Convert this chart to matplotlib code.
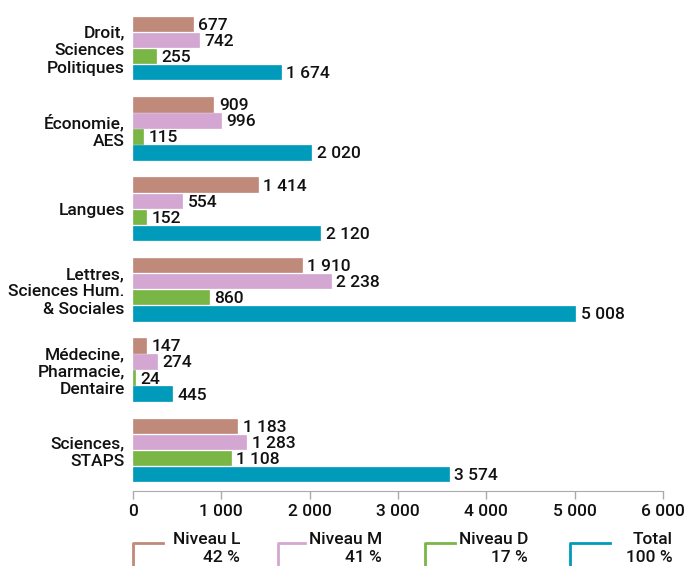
import matplotlib.pyplot as plt
from matplotlib.lines import Line2D
import numpy as np

plt.rcParams['font.family'] = ['Roboto', 'DejaVu Sans']

# Data
categories = ["Droit,\nSciences\nPolitiques", "Économie,\nAES", "Langues",
              "Lettres,\nSciences Hum.\n& Sociales", "Médecine,\nPharmacie,\nDentaire",
              "Sciences,\nSTAPS"]
niveau_l = [677, 909, 1414, 1910, 147, 1183]
niveau_m = [742, 996, 554, 2238, 274, 1283]
niveau_d = [255, 115, 152, 860, 24, 1108]
total = [1674, 2020, 2120, 5008, 445, 3574]
series_names = ["Niveau L", "Niveau M", "Niveau D", "Total"]
series_shares = ["42 %", "41 %", "17 %", "100 %"]
colors = ["#c08a7a", "#d4a7d2", "#7ab646", "#009bbb"]
xticks = [0, 1000, 2000, 3000, 4000, 5000, 6000]


def fmt(v):
    return f"{v:,}".replace(",", " ")


fig = plt.figure(figsize=(6.84, 5.66), dpi=100)
ax = fig.add_axes([133 / 684, 1 - 491 / 566, (663 - 133) / 684, (491 - 3) / 566])

series = [niveau_l, niveau_m, niveau_d, total]
y = np.arange(len(categories))
pitch = 0.2
height = 0.18
for k, (vals, col) in enumerate(zip(series, colors)):
    pos = y + (k - 1.5) * pitch
    ax.barh(pos, vals, height=height, color=col, edgecolor=col, linewidth=0.5)
    for p, v in zip(pos, vals):
        ax.annotate(fmt(v), (v, p), xytext=(4, -1), textcoords="offset points",
                    va="center", ha="left", fontsize=12.5, fontweight="medium",
                    color="#111111")

ax.set_ylim(len(categories) - 0.49, -0.56)
ax.set_xlim(0, 6000)
ax.set_yticks(y)
ax.set_yticklabels(categories, fontsize=12.5, fontweight="medium", linespacing=1.2,
                   color="#111111")
ax.tick_params(axis="y", length=0, pad=6)
ax.set_xticks(xticks)
ax.set_xticklabels([fmt(t) for t in xticks], fontsize=12.5, fontweight="medium",
                   color="#111111")
ax.tick_params(axis="x", length=6, color="#aaaaaa", width=1, pad=3)
for s in ["top", "right", "left"]:
    ax.spines[s].set_visible(False)
ax.spines["bottom"].set_color("#aaaaaa")

# Legend with L-shaped markers
W, H = 684, 566
starts = [133, 278, 425, 570]
ends = [240, 382, 528, 673]
hlen = [30, 27, 30, 40]
for x0, x1, hl, name, share, col in zip(starts, ends, hlen, series_names, series_shares, colors):
    fig.add_artist(Line2D([x0 / W, x0 / W, (x0 + hl) / W],
                          [0, 1 - 543 / H, 1 - 543 / H], color=col, lw=2,
                          transform=fig.transFigure))
    fig.text(x1 / W, 1 - 540 / H, name, ha="right", va="center", fontsize=12.5,
             fontweight="medium", color="#111111")
    fig.text(x1 / W, 1 - 558 / H, share, ha="right", va="center", fontsize=12.5,
             fontweight="medium", color="#111111")

fig.savefig("out.png", dpi=100)
